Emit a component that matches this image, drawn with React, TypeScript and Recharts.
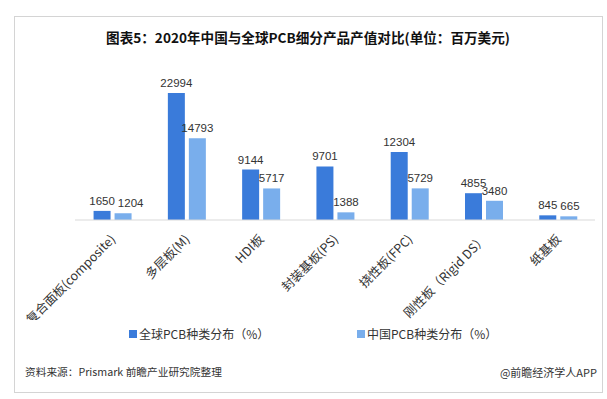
import { BarChart, Bar, XAxis, YAxis, LabelList } from 'recharts'

const categories = ['复合面板(composite)', '多层板(M)', 'HDI板', '封装基板(PS)', '挠性板(FPC)', '刚性板（Rigid DS）', '纸基板']
const globalValues = [1650, 22994, 9144, 9701, 12304, 4855, 845]
const chinaValues = [1204, 14793, 5717, 1388, 5729, 3480, 665]
const seriesNames = ['全球PCB种类分布（%）', '中国PCB种类分布（%）']
const seriesColors = ['#3A7BDA', '#79AEEC']

const title = '图表5：2020年中国与全球PCB细分产品产值对比(单位：百万美元)'
const sourceText = '资料来源：Prismark 前瞻产业研究院整理'
const credit = '@前瞻经济学人APP'

const cjk = '"Noto Sans CJK SC", "Noto Sans", sans-serif'
const numFont = '"Liberation Sans", Arial, sans-serif'
const LABEL_SIZE = 11.5
const DIGIT_W = LABEL_SIZE * 0.556

const data = categories.map((name, i) => ({
  name,
  global: globalValues[i],
  china: chinaValues[i],
}))

function CategoryTick(props: any) {
  const { x, y, payload } = props
  return (
    <g transform={`translate(${x + 4},${y + 20}) rotate(-45)`}>
      <text x={0} y={0} textAnchor="end" fontSize={12.5} fill="#333" fontFamily={cjk}>
        {payload.value}
      </text>
    </g>
  )
}

// value label above a bar; the china label slides right when it would sit on top of the global one
function ValueLabel(props: any) {
  const { x, y, width, height, value, index, series } = props
  let cx = x + width / 2
  if (series === 'china' && height > 0) {
    const g = globalValues[index]
    const dy = ((g - value) / value) * height
    if (Math.abs(dy) < 5) {
      const gRight = cx - width - 4 + String(g).length * DIGIT_W / 2
      const cLeft = cx - String(value).length * DIGIT_W / 2
      if (gRight + 3 > cLeft) cx += gRight + 3 - cLeft
    }
  }
  return (
    <text x={cx} y={y - 6} textAnchor="middle" fontSize={LABEL_SIZE} fill="#333" fontFamily={numFont}>
      {value}
    </text>
  )
}

export default function App() {
  return (
    <div style={{ position: 'absolute', left: 0, top: 0, width: 607, height: 399, background: '#fff', fontFamily: cjk }}>
      <div
        style={{
          position: 'absolute',
          left: 14,
          top: 16,
          width: 587,
          height: 375,
          border: '1px solid #d4d4d4',
        }}
      />
      <div
        style={{
          position: 'absolute',
          left: 0,
          top: 27,
          width: 616,
          textAlign: 'center',
          fontSize: 13.6,
          fontWeight: 'bold',
          lineHeight: '20px',
          color: '#111',
        }}
      >
        {title}
      </div>

      <div style={{ position: 'absolute', left: 0, top: 0 }}>
        <BarChart
          width={607}
          height={320}
          data={data}
          margin={{ top: 82, right: 12, left: 75, bottom: 0 }}
          barCategoryGap="25%"
          barGap={4}
        >
          <XAxis
            dataKey="name"
            interval={0}
            height={100}
            tickLine={false}
            tickSize={0}
            tickMargin={0}
            axisLine={{ stroke: '#d9d9d9' }}
            tick={<CategoryTick />}
          />
          <YAxis hide domain={[0, 25000]} />
          <Bar dataKey="global" name={seriesNames[0]} fill={seriesColors[0]} isAnimationActive={false}>
            <LabelList dataKey="global" content={(p: any) => <ValueLabel {...p} series="global" />} />
          </Bar>
          <Bar dataKey="china" name={seriesNames[1]} fill={seriesColors[1]} isAnimationActive={false}>
            <LabelList dataKey="china" content={(p: any) => <ValueLabel {...p} series="china" />} />
          </Bar>
        </BarChart>
      </div>

      {seriesNames.map((n, i) => (
        <div
          key={n}
          style={{
            position: 'absolute',
            left: i === 0 ? 129 : 357,
            top: 325,
            display: 'flex',
            alignItems: 'center',
            fontSize: 12,
            color: '#333',
            lineHeight: '18px',
          }}
        >
          <span style={{ width: 8, height: 8, background: seriesColors[i], marginRight: 2, display: 'inline-block' }} />
          <span>{n}</span>
        </div>
      ))}

      <div style={{ position: 'absolute', left: 25, top: 364, fontSize: 10.7, color: '#333', lineHeight: '16px' }}>
        {sourceText}
      </div>
      <div style={{ position: 'absolute', right: 10, top: 364, fontSize: 11, color: '#333', lineHeight: '16px' }}>
        {credit}
      </div>
    </div>
  )
}
